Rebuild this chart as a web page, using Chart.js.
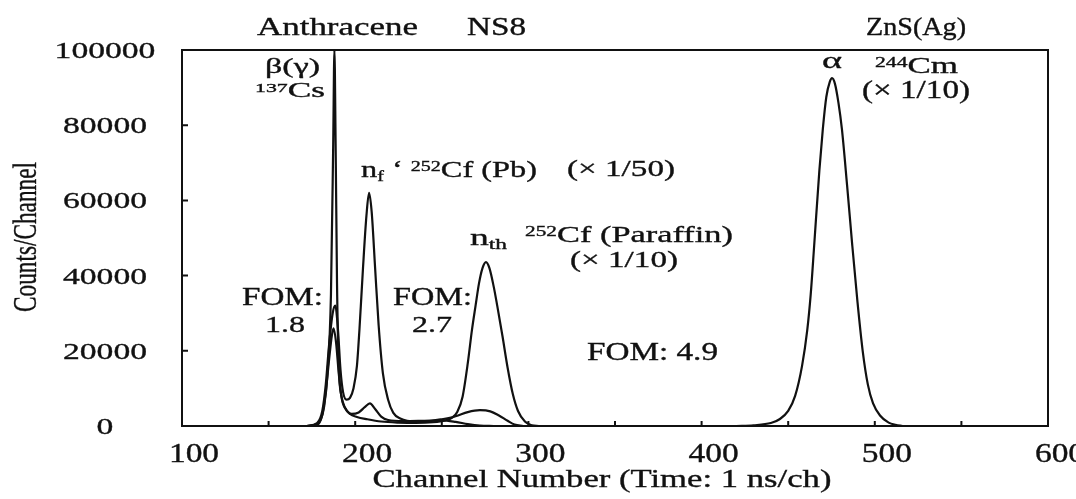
<!DOCTYPE html>
<html>
<head>
<meta charset="utf-8">
<title>Pulse shape discrimination spectra</title>
<script src="https://cdn.jsdelivr.net/npm/chart.js@4.4.0/dist/chart.umd.min.js"></script>
<style>
  html, body { margin: 0; padding: 0; background: #fff; }
  canvas { display: block; }
</style>
</head>
<body>
<canvas id="chart" width="1076" height="499"></canvas>
<script>
// ============================================
// DATA
// ============================================

// Anthracene: gamma spike (137Cs) + small fast-neutron bump
const anthChannels = [172, 178, 180, 182, 184, 186, 187.3, 188, 188.7, 189.5, 190.5, 192, 194.5, 198, 202, 205.5, 208.5, 211.5, 215, 219, 228, 240, 250, 258, 265, 272, 280];
const anthCounts   = [0, 300, 1500, 5000, 14000, 35000, 75000, 100000, 75000, 38000, 16000, 8000, 4500, 3200, 3600, 5000, 6000, 4500, 2500, 1600, 1300, 1400, 1500, 1100, 500, 100, 0];

// NS8 with 252Cf behind Pb (x 1/50)
const pbChannels = [172, 178, 181, 183, 185, 187, 188.5, 190, 191.5, 193, 195, 197, 199, 201, 202.5, 204.5, 206.5, 208, 209.5, 211.5, 213.5, 216, 219, 222, 226, 235, 243, 250, 258, 265, 272, 278, 283, 288, 292, 297];
const pbCounts   = [0, 800, 4000, 11000, 22000, 30000, 32000, 26000, 15000, 9000, 7000, 7500, 10000, 16000, 26000, 42000, 56000, 62000, 57000, 42000, 27000, 14000, 7000, 3500, 2000, 1200, 1300, 1800, 2600, 3700, 4200, 3900, 2800, 1400, 400, 0];

// NS8 with 252Cf in paraffin (x 1/10)
const parChannels = [172, 178, 181, 183, 185, 186.5, 187.5, 189, 190.5, 192, 194, 197, 201, 207, 215, 225, 235, 245, 252, 256, 259, 262, 265, 267.4, 269.5, 271.5, 273.5, 275.5, 277.5, 280, 282, 285, 288, 291, 294, 298, 302, 306];
const parCounts   = [0, 600, 3000, 9000, 18000, 24000, 26000, 22000, 14000, 8000, 5000, 3200, 2400, 1800, 1200, 900, 800, 1000, 1500, 2200, 3800, 7800, 16700, 25500, 32000, 38000, 42000, 43600, 42000, 37000, 32000, 24000, 15500, 8500, 4000, 1200, 200, 0];

// ZnS(Ag) alpha peak, 244Cm (x 1/10)
const znsChannels = [420, 430, 440, 445, 450, 454, 458, 461, 463, 465, 468, 470, 472, 474, 475.3, 477, 479, 481, 484, 487, 490, 493, 496, 499, 503, 508, 512, 516];
const znsCounts   = [0, 200, 800, 1800, 4000, 8000, 16000, 25500, 35000, 48000, 68000, 79000, 87500, 91500, 92500, 91000, 86000, 79000, 64000, 48000, 33000, 20000, 11000, 6000, 2800, 900, 300, 0];

// Axes
const xTickValues = [100, 200, 300, 400, 500, 600];
const xMarkValues = [100, 150, 200, 250, 300, 350, 400, 450, 500, 550, 600];
const yTickValues = [0, 20000, 40000, 60000, 80000, 100000];

// ============================================
// STYLE
// ============================================
const INK = '#111111';
const SERIF = '"Liberation Serif", "Times New Roman", serif';

// Annotations: runs of [text, 'sup'|'sub'], left x, baseline y, size, width
const notes = [
    { runs: [['Anthracene']], x: 257, y: 35, size: 25, w: 161 },
    { runs: [['NS8']], x: 467, y: 35, size: 25, w: 59 },
    { runs: [['ZnS(Ag)']], x: 866, y: 35, size: 25, w: 100 },
    { runs: [['β(γ)']], x: 265, y: 73, size: 22, w: 55 },
    { runs: [['137', 'sup'], ['Cs']], x: 255, y: 97, size: 21, w: 70 },
    { runs: [['FOM:']], x: 242, y: 305, size: 25, w: 81 },
    { runs: [['1.8']], x: 265, y: 332, size: 24, w: 40 },
    { runs: [['FOM:']], x: 393, y: 305, size: 25, w: 79 },
    { runs: [['2.7']], x: 412, y: 332, size: 24, w: 40 },
    { runs: [['n'], ['f', 'sub'], [' \u2018 '], ['252', 'sup'], ['Cf (Pb)']], x: 361, y: 177, size: 24, w: 176 },
    { runs: [['(\u00d7 1/50)']], x: 567, y: 176, size: 24, w: 108 },
    { runs: [['n'], ['th', 'sub']], x: 470, y: 245, size: 24, w: 37 },
    { runs: [['252', 'sup'], ['Cf (Paraffin)']], x: 525, y: 242, size: 24, w: 208 },
    { runs: [['(\u00d7 1/10)']], x: 570, y: 267, size: 24, w: 108 },
    { runs: [['FOM: 4.9']], x: 587, y: 360, size: 26, w: 131 },
    { runs: [['\u03b1']], x: 822, y: 68, size: 24, w: 20 },
    { runs: [['244', 'sup'], ['Cm']], x: 875, y: 73, size: 23, w: 83 },
    { runs: [['(\u00d7 1/10)']], x: 862, y: 98, size: 25, w: 108 }
];

// ============================================
// TEXT HELPER (stretched serif like the scan)
// ============================================
function drawText(ctx, runs, x, y, opts) {
    const size = opts.size || 25;
    const pieces = runs.map(([t, kind]) => {
        const fs = kind ? size * 0.62 : size;
        ctx.font = fs + 'px ' + SERIF;
        let dy = 0;
        if (kind === 'sup') dy = -size * 0.24;
        if (kind === 'sub') dy = size * 0.16;
        return { t, fs, dy, w: ctx.measureText(t).width };
    });
    const natural = pieces.reduce((s, p) => s + p.w, 0);
    const sx = opts.w ? opts.w / natural : (opts.stretch || 1);
    let cx = 0;
    if (opts.align === 'center') cx = -natural / 2;
    if (opts.align === 'right') cx = -natural;

    ctx.save();
    ctx.translate(x, y);
    if (opts.rotate) ctx.rotate(opts.rotate);
    ctx.scale(sx, 1);
    ctx.fillStyle = INK;
    ctx.strokeStyle = INK;
    ctx.lineWidth = 0.35;
    ctx.textAlign = 'left';
    ctx.textBaseline = 'alphabetic';
    pieces.forEach(p => {
        ctx.font = p.fs + 'px ' + SERIF;
        ctx.fillText(p.t, cx, p.dy);
        ctx.strokeText(p.t, cx, p.dy);
        cx += p.w;
    });
    ctx.restore();
}

// ============================================
// PLUGIN: frame, inner ticks, labels
// ============================================
const paperPlugin = {
    id: 'paper',
    afterDraw(chart) {
        const { ctx, chartArea: a } = chart;
        const xs = chart.scales.x;
        const ys = chart.scales.y;

        ctx.save();
        ctx.strokeStyle = INK;
        ctx.lineWidth = 2;
        ctx.strokeRect(a.left, a.top, a.right - a.left, a.bottom - a.top);

        // small inward tick marks
        ctx.beginPath();
        xMarkValues.forEach(v => {
            const px = xs.getPixelForValue(v);
            ctx.moveTo(px, a.bottom);
            ctx.lineTo(px, a.bottom - 5);
        });
        yTickValues.forEach(v => {
            const py = ys.getPixelForValue(v);
            ctx.moveTo(a.left, py);
            ctx.lineTo(a.left + 6, py);
        });
        ctx.stroke();
        ctx.restore();

        // tick labels
        xs.ticks.forEach(t => {
            drawText(ctx, [[String(t.value)]], xs.getPixelForValue(t.value) + 12, 462, { size: 27, stretch: 1.24, align: 'center' });
        });
        ys.ticks.forEach(t => {
            drawText(ctx, [[String(t.value)]], 105, ys.getPixelForValue(t.value) + 8, { size: 24, stretch: 1.4, align: 'center' });
        });

        // axis titles
        drawText(ctx, [['Channel Number (Time: 1 ns/ch)']], 602, 487, { size: 26, w: 459, align: 'center' });
        drawText(ctx, [['Counts/Channel']], 36, 237, { size: 33, w: 150, align: 'center', rotate: -Math.PI / 2 });

        // annotations
        notes.forEach(n => drawText(ctx, n.runs, n.x, n.y, { size: n.size, w: n.w }));
    }
};

// ============================================
// CHART
// ============================================
function toPoints(channels, counts) {
    return channels.map((c, i) => ({ x: c, y: counts[i] }));
}

function spectrum(label, channels, counts) {
    return {
        label: label,
        data: toPoints(channels, counts),
        borderColor: INK,
        borderWidth: 2.2,
        pointRadius: 0,
        fill: false,
        cubicInterpolationMode: 'monotone'
    };
}

const ctx = document.getElementById('chart');
const chart = new Chart(ctx.getContext('2d'), {
    type: 'line',
    data: {
        datasets: [
            spectrum('Anthracene', anthChannels, anthCounts),
            spectrum('NS8 252Cf (Pb)', pbChannels, pbCounts),
            spectrum('NS8 252Cf (Paraffin)', parChannels, parCounts),
            spectrum('ZnS(Ag) 244Cm', znsChannels, znsCounts)
        ]
    },
    options: {
        responsive: false,
        animation: false,
        layout: {
            padding: { left: 0, right: 28, top: 50, bottom: 0 }
        },
        plugins: {
            legend: { display: false },
            tooltip: { enabled: false }
        },
        scales: {
            x: {
                type: 'linear',
                min: 100,
                max: 600,
                grid: { display: false },
                border: { display: false },
                ticks: { display: false },
                afterBuildTicks: s => { s.ticks = xTickValues.map(v => ({ value: v })); },
                afterFit: s => { s.height = 73; s.paddingLeft = 0; s.paddingRight = 0; }
            },
            y: {
                min: 0,
                max: 100000,
                grid: { display: false },
                border: { display: false },
                ticks: { display: false },
                afterBuildTicks: s => { s.ticks = yTickValues.map(v => ({ value: v })); },
                afterFit: s => { s.width = 182; s.paddingTop = 0; s.paddingBottom = 0; }
            }
        }
    },
    plugins: [paperPlugin]
});
</script>
</body>
</html>
